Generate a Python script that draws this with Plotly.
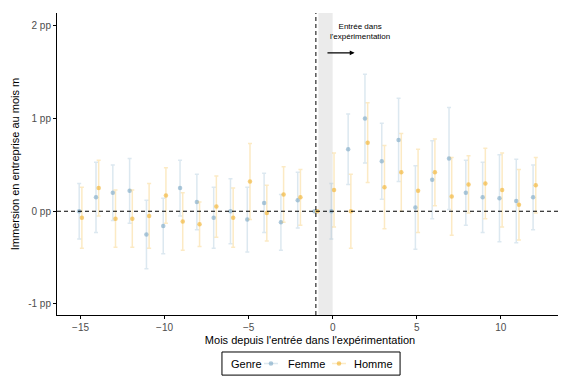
import plotly.graph_objects as go

months = list(range(-15, 13))

femme = [0.00, 0.15, 0.20, 0.22, -0.25, -0.16, 0.25, 0.10, -0.07, 0.00, -0.09, 0.09, -0.12, 0.12, 0.00,
         0.00, 0.67, 1.00, 0.54, 0.77, 0.04, 0.34, 0.57, 0.20, 0.15, 0.14, 0.11, 0.15]
femme_ci = [0.30, 0.38, 0.30, 0.35, 0.37, 0.30, 0.30, 0.30, 0.33, 0.35, 0.35, 0.32, 0.30, 0.30, 0.00,
            0.30, 0.38, 0.48, 0.41, 0.45, 0.45, 0.42, 0.55, 0.35, 0.38, 0.47, 0.45, 0.35]
homme = [-0.07, 0.25, -0.08, -0.08, -0.05, 0.17, -0.11, -0.14, 0.05, -0.07, 0.32, -0.02, 0.18, 0.15, 0.00,
         0.23, 0.00, 0.74, 0.26, 0.42, 0.22, 0.42, 0.16, 0.29, 0.30, 0.23, 0.07, 0.28]
homme_ci = [0.33, 0.30, 0.31, 0.31, 0.35, 0.30, 0.31, 0.24, 0.33, 0.32, 0.41, 0.30, 0.30, 0.30, 0.00,
            0.40, 0.40, 0.43, 0.45, 0.42, 0.45, 0.36, 0.42, 0.31, 0.38, 0.40, 0.38, 0.30]

y_ticks = [-1, 0, 1, 2]
y_labels = ["-1 pp", "0 pp", "1 pp", "2 pp"]
x_ticks = [-15, -10, -5, 0, 5, 10]
series_names = ["Femme", "Homme"]
legend_title = "Genre"

dodge = 0.08
blue = "rgba(120,165,195,0.6)"
blue_err = "rgba(140,180,205,0.3)"
gold = "rgba(240,175,40,0.6)"
gold_err = "rgba(245,185,60,0.3)"

fig = go.Figure()
fig.add_trace(go.Scatter(
    x=[m - dodge for m in months], y=femme, mode="markers", name=series_names[0], showlegend=False,
    marker=dict(color=blue, size=4.5),
    error_y=dict(type="data", array=femme_ci, color=blue_err, thickness=1.5, width=2),
))
fig.add_trace(go.Scatter(
    x=[m + dodge for m in months], y=homme, mode="markers", name=series_names[1], showlegend=False,
    marker=dict(color=gold, size=4.5),
    error_y=dict(type="data", array=homme_ci, color=gold_err, thickness=1.5, width=2),
))

fig.add_shape(type="rect", x0=-0.85, x1=0, y0=0, y1=1, yref="paper", xref="x",
              fillcolor="rgba(190,190,190,0.3)", line_width=0, layer="below")
fig.add_shape(type="line", x0=-1, x1=-1, y0=0, y1=1, yref="paper", xref="x",
              line=dict(color="black", width=1, dash="4px,3px"))
fig.add_shape(type="line", x0=0, x1=1, y0=0, y1=0, xref="paper", yref="y",
              line=dict(color="black", width=1, dash="4px,3px"))

fig.add_annotation(x=1.3, y=1.71, ax=-0.4, ay=1.71, axref="x", ayref="y", xref="x", yref="y",
                   text="", showarrow=True, arrowhead=2, arrowsize=0.8, arrowwidth=1.2, arrowcolor="black")
fig.add_annotation(x=1.6, y=1.94, xref="x", yref="y", text="Entrée dans<br>l'expérimentation",
                   showarrow=False, font=dict(size=8, color="black"), align="center")

# Legend box (drawn manually so title and entries share one row)
leg_y = -0.1606
fig.add_shape(type="rect", xref="paper", yref="paper", x0=0.326, x1=0.678, y0=-0.199, y1=-0.1225,
              line=dict(color="black", width=1), fillcolor="white")
fig.add_annotation(xref="paper", yref="paper", x=0.340, y=leg_y, text=legend_title, showarrow=False,
                   xanchor="left", yanchor="middle", font=dict(size=11, color="black"))
for sx, tx, name, mc, lc in [(0.4229, 0.4526, series_names[0], blue, blue_err),
                             (0.5573, 0.583, series_names[1], gold, gold_err)]:
    fig.add_shape(type="line", xref="paper", yref="paper", xsizemode="pixel", ysizemode="pixel",
                  xanchor=sx, yanchor=leg_y, x0=-7, x1=7, y0=0, y1=0, line=dict(color=lc, width=1.5))
    fig.add_shape(type="circle", xref="paper", yref="paper", xsizemode="pixel", ysizemode="pixel",
                  xanchor=sx, yanchor=leg_y, x0=-2.3, x1=2.3, y0=-2.3, y1=2.3,
                  line=dict(width=0), fillcolor=mc)
    fig.add_annotation(xref="paper", yref="paper", x=tx, y=leg_y, text=name, showarrow=False,
                       xanchor="left", yanchor="middle", font=dict(size=11, color="black"))

fig.update_layout(
    width=558, height=368,
    margin=dict(l=49, r=3, t=5, b=61, autoexpand=False),
    plot_bgcolor="white", paper_bgcolor="white",
    font=dict(family="Liberation Sans, Arial, sans-serif", color="black"),
    showlegend=False,
    xaxis=dict(range=[-16.4, 13.7], tickvals=x_ticks, showgrid=False, zeroline=False,
               showline=True, linecolor="black", linewidth=1, ticks="outside", ticklen=3,
               tickcolor="black", tickfont=dict(size=10, color="#4d4d4d"),
               title=dict(text="Mois depuis l'entrée dans l'expérimentation", font=dict(size=11), standoff=4)),
    yaxis=dict(range=[-1.12, 2.14], tickvals=y_ticks, ticktext=y_labels, showgrid=False, zeroline=False,
               showline=True, linecolor="black", linewidth=1, ticks="outside", ticklen=3,
               tickcolor="black", tickfont=dict(size=10, color="#4d4d4d"),
               title=dict(text="Immersion en entreprise au mois m", font=dict(size=11), standoff=6)),
)

fig.write_html("out.html")
